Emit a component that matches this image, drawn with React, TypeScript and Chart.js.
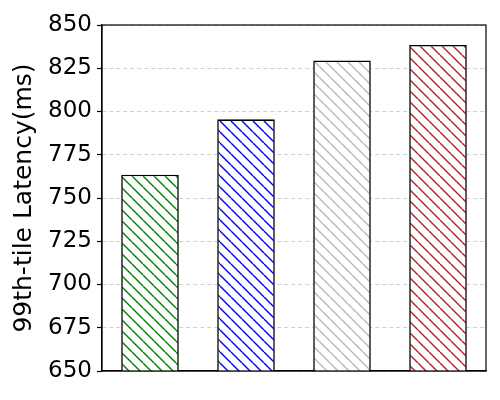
import React, { useEffect, useRef } from "react";
import { Chart, registerables } from "chart.js";

Chart.register(...registerables);

const categories = ["A", "B", "C", "D"];
const latencies = [763.5, 795.5, 829.5, 838.5];
const hatchColors = ["#008000", "#0000ff", "#b8b8b8", "#b22222"];
const yMin = 650;
const yMax = 850;
const yStep = 25;
const yTitle = "99th-tile Latency(ms)";

function makeHatch(color: string): CanvasPattern | string {
  const s = 11;
  const c = document.createElement("canvas");
  c.width = s;
  c.height = s;
  const g = c.getContext("2d");
  if (!g) return color;
  g.fillStyle = "#ffffff";
  g.fillRect(0, 0, s, s);
  g.strokeStyle = color;
  g.lineWidth = 1.4;
  for (const k of [-s, 0, s]) {
    g.beginPath();
    g.moveTo(k, 0);
    g.lineTo(k + s, s);
    g.stroke();
  }
  const p = g.createPattern(c, "repeat");
  return p || color;
}

const frameBox = {
  id: "frameBox",
  afterDraw(chart: any) {
    const { ctx, chartArea } = chart;
    ctx.save();
    ctx.strokeStyle = "#000000";
    ctx.lineWidth = 1.2;
    ctx.strokeRect(chartArea.left, chartArea.top, chartArea.right - chartArea.left, chartArea.bottom - chartArea.top);
    ctx.restore();
  },
};

export default function App() {
  const ref = useRef<HTMLCanvasElement | null>(null);
  useEffect(() => {
    if (!ref.current) return;
    const chart = new Chart(ref.current, {
      type: "bar",
      data: {
        labels: categories,
        datasets: [
          {
            data: latencies,
            backgroundColor: hatchColors.map((c) => makeHatch(c)) as any,
            borderColor: "#000000",
            borderWidth: 1.6,
            borderSkipped: false,
            categoryPercentage: 1,
            barPercentage: 0.6,
          },
        ],
      },
      options: {
        animation: false,
        responsive: true,
        maintainAspectRatio: false,
        layout: { padding: { left: 0, right: 14, top: 25, bottom: 0 } },
        plugins: { legend: { display: false }, tooltip: { enabled: false } },
        scales: {
          x: {
            ticks: { display: false },
            grid: { display: false },
            border: { display: true, color: "#000000", width: 1.2 },
            afterFit: (scale: any) => {
              scale.height = 29;
            },
          },
          y: {
            min: yMin,
            max: yMax,
            ticks: {
              stepSize: yStep,
              color: "#000000",
              padding: 5,
              font: { family: "DejaVu Sans", size: 23 },
            },
            grid: {
              color: "#cccccc",
              lineWidth: 0.9,
              tickColor: "#000000",
              tickLength: 5,
              tickWidth: 1.2,
              drawTicks: true,
            },
            border: { display: true, color: "#000000", width: 1.2, dash: [4, 3] },
            title: {
              display: true,
              text: yTitle,
              color: "#000000",
              padding: { top: 9, bottom: 0 },
              font: { family: "DejaVu Sans", size: 25, weight: "normal" },
            },
            afterFit: (scale: any) => {
              scale.width = 102;
            },
          },
        },
      },
      plugins: [frameBox],
    });
    return () => chart.destroy();
  }, []);
  return (
    <div style={{ position: "absolute", left: 0, top: 0, width: 500, height: 400, background: "#ffffff" }}>
      <canvas ref={ref} />
    </div>
  );
}
